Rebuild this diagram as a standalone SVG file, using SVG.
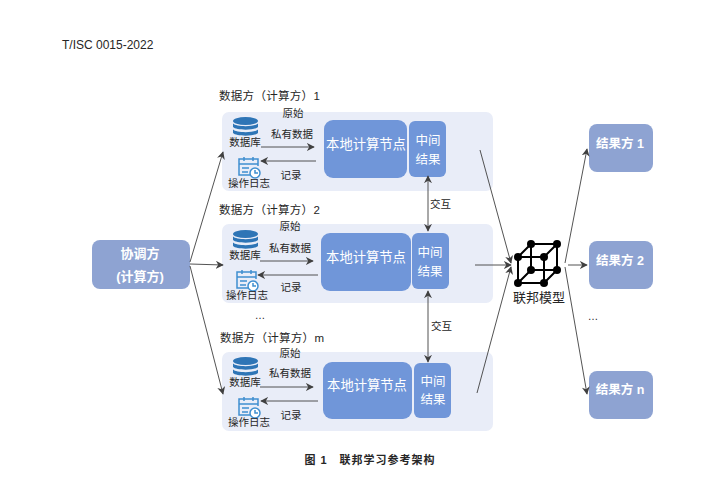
<svg xmlns="http://www.w3.org/2000/svg" width="720" height="478" viewBox="0 0 720 478">
<defs>
<marker id="a" viewBox="0 0 10 10" refX="9" refY="5" markerWidth="8" markerHeight="8" markerUnits="userSpaceOnUse" orient="auto-start-reverse"><path d="M0 0L10 5L0 10L3 5Z" fill="#404040"/></marker>
<g id="db"><ellipse cx="12.500" cy="4" rx="12.500" ry="4" fill="#2e75b6"/><path d="M0 6.500C3 10 22 10 25 6.500V10C22 13.500 3 13.500 0 10Z M0 12.500C3 16 22 16 25 12.500V16C22 19.500 3 19.500 0 16Z" fill="#2e75b6"/></g>
<g id="log" fill="none" stroke="#3f8fd0" stroke-width="1.500"><path d="M14 18H1V2H20V9"/><path d="M1 7H20M6 0V4M15 0V4M4 11H11M4 15H10"/><circle cx="17" cy="16" r="5" fill="#fff"/><path d="M17 13V16H20"/></g>
</defs>
<style>
text{font-family:"Liberation Sans","Noto Sans CJK SC",sans-serif;fill:#262626}
.s{font-size:10.500px}
.m{font-size:11.500px;letter-spacing:.3px}
.w{fill:#fff;font-weight:bold;font-size:12.500px}
.n{fill:#fff;font-size:12.500px}
.k{fill:#fff;font-size:13.300px}
.c{text-anchor:middle}
.panel{fill:#e9edf8}
.local{fill:#7096d9}
.res{fill:#8ea3d2}
.l{stroke:#404040;stroke-width:.9;fill:none;marker-end:url(#a)}
.b{marker-start:url(#a)}
.cube{stroke:#000;stroke-width:2;fill:none}
</style>
<text x="62" y="49" style="font-size:12px">T/ISC 0015-2022</text>

<g id="coordinator"><rect x="92" y="240" width="98" height="49" rx="8" class="res"/><text x="140" y="258" class="w c" style="font-size:13px">协调方</text><text x="140" y="281" class="w c" style="font-size:13px">(计算方)</text></g>

<g id="party-1">
<text x="219" y="100" class="m">数据方（计算方）1</text>
<rect x="222" y="112" width="271" height="79" rx="7" class="panel"/>
<text x="293" y="117" class="s c">原始</text>
<use href="#db" x="233" y="117"/>
<text x="245" y="146" class="s c">数据库</text>
<text x="292" y="138" class="s c">私有数据</text>
<use href="#log" x="238" y="157"/>
<text x="249" y="187" class="s c">操作日志</text>
<text x="291" y="179" class="s c">记录</text>
<rect x="324" y="120" width="83" height="58" rx="9" class="local"/>
<text x="366" y="149" class="k c">本地计算节点</text>
<rect x="409" y="121" width="37" height="56" rx="6" class="local"/>
<text x="428" y="145" class="n c">中间</text><text x="428" y="164" class="n c">结果</text>
</g>

<g id="party-2">
<text x="219" y="214" class="m">数据方（计算方）2</text>
<rect x="222" y="224" width="271" height="79" rx="7" class="panel"/>
<text x="290" y="230" class="s c">原始</text>
<use href="#db" x="233" y="230"/>
<text x="245" y="259" class="s c">数据库</text>
<text x="290" y="252" class="s c">私有数据</text>
<use href="#log" x="236" y="270"/>
<text x="247" y="299" class="s c">操作日志</text>
<text x="291" y="291" class="s c">记录</text>
<rect x="321" y="233" width="90" height="58" rx="9" class="local"/>
<text x="366" y="262" class="k c">本地计算节点</text>
<rect x="412" y="233" width="37" height="56" rx="6" class="local"/>
<text x="430" y="257" class="n c">中间</text><text x="430" y="276" class="n c">结果</text>
</g>

<text x="260" y="319" class="s c">…</text>

<g id="party-m">
<text x="220" y="342" class="m">数据方（计算方）m</text>
<rect x="222" y="352" width="271" height="79" rx="7" class="panel"/>
<text x="290" y="357" class="s c">原始</text>
<use href="#db" x="233" y="357"/>
<text x="245" y="386" class="s c">数据库</text>
<text x="290" y="377" class="s c">私有数据</text>
<use href="#log" x="238" y="397"/>
<text x="249" y="426" class="s c">操作日志</text>
<text x="291" y="419" class="s c">记录</text>
<rect x="323" y="362" width="89" height="57" rx="9" class="local"/>
<text x="367" y="390" class="k c">本地计算节点</text>
<rect x="414" y="363" width="37" height="55" rx="6" class="local"/>
<text x="433" y="386" class="n c">中间</text><text x="433" y="404" class="n c">结果</text>
</g>

<text x="430" y="208" class="s">交互</text>
<text x="431" y="330" class="s">交互</text>

<g id="model">
<path class="cube" d="M518 257H544V283H518ZM531 244H557V270H531ZM518 257L531 244M544 257L557 244M544 283L557 270M518 283L531 270"/>
<g fill="#000"><circle cx="518" cy="257" r="4"/><circle cx="544" cy="257" r="4"/><circle cx="518" cy="283" r="4"/><circle cx="544" cy="283" r="4"/><circle cx="531" cy="244" r="4"/><circle cx="557" cy="244" r="4"/><circle cx="531" cy="270" r="4"/><circle cx="557" cy="270" r="4"/></g>
<text x="539" y="302" class="c" style="font-size:13px">联邦模型</text>
</g>

<g id="result-1"><rect x="589" y="124" width="64" height="48" rx="8" class="res"/><text x="620" y="148" class="w c">结果方 1</text></g>
<g id="result-2"><rect x="589" y="241" width="64" height="48" rx="8" class="res"/><text x="620" y="265" class="w c">结果方 2</text></g>
<text x="593" y="320" class="s c">…</text>
<g id="result-n"><rect x="589" y="371" width="64" height="48" rx="8" class="res"/><text x="620" y="394" class="w c">结果方 n</text></g>

<text x="370" y="464" class="c" style="font-size:11px;font-weight:bold;letter-spacing:1px">图 1　联邦学习参考架构</text>

<g id="connectors">
<path class="l" d="M190 262L223 152"/>
<path class="l" d="M190 264L223 265"/>
<path class="l" d="M190 266L223 394"/>
<path class="l" d="M261 147H314"/>
<path class="l" d="M316 161H261"/>
<path class="l" d="M260 261H313"/>
<path class="l" d="M318 275H258"/>
<path class="l" d="M260 387H313"/>
<path class="l" d="M318 401H261"/>
<path class="l b" d="M428 176V231"/>
<path class="l b" d="M428 291V362"/>
<path class="l" d="M480 150L511 263"/>
<path class="l" d="M475 265H511"/>
<path class="l" d="M477 393L511 267"/>
<path class="l" d="M568 265H587"/>
<path class="l" d="M565 263L587 149"/>
<path class="l" d="M565 267L587 394"/>
</g>
</svg>
